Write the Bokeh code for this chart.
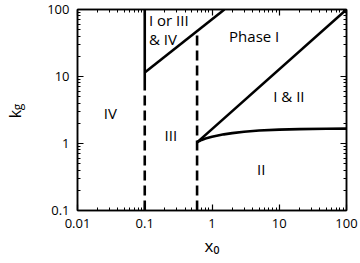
from bokeh.plotting import figure
from bokeh.models import Range1d, LogAxis, FixedTicker, Label
from bokeh.embed import file_html
from bokeh.resources import INLINE

# ---- data ----
x_ticks = [0.01, 0.1, 1, 10, 100]
x_tick_labels = ["0.01", "0.1", "1", "10", "100"]
y_ticks = [0.1, 1, 10, 100]
y_tick_labels = ["0.1", "1", "10", "100"]

# boundary x=0.1 : solid upper part, dashed lower part
b1_solid_x = [0.1, 0.1]
b1_solid_y = [8.3, 100]
b1_dash_x = [0.1, 0.1]
b1_dash_y = [0.1, 8.3]
# diagonal from (0.1, 11.5) to top
d1_x = [0.1, 1.53]
d1_y = [11.5, 100]
# boundary x=0.6 dashed
b2_dash_x = [0.6, 0.6]
b2_dash_y = [0.1, 45]
# diagonal from (0.6, 1.04) to (100, 100)
d2_x = [0.6, 100]
d2_y = [1.04, 100]
# saturating curve
c_x = [0.6, 0.65, 0.7, 0.8, 1.0, 1.5, 2.0, 3.0, 5.0, 10.0, 20.0, 50.0, 100.0]
c_y = [1.04, 1.09, 1.13, 1.19, 1.26, 1.37, 1.43, 1.50, 1.56, 1.61, 1.64, 1.66, 1.67]

region_labels = ["Phase I", "I & II", "II", "IV", "III"]
region_x = [4.24, 13.9, 5.38, 0.0307, 0.244]
region_y = [40.9, 5.03, 0.42, 2.9, 1.32]

FONT = "Open Sans"
NB = "\u00a0"

p = figure(width=360, height=263, x_axis_type="log", y_axis_type="log",
           x_range=Range1d(0.01, 100), y_range=Range1d(0.1, 100),
           output_backend="svg", toolbar_location=None,
           min_border_left=75, min_border_right=14, min_border_top=9, min_border_bottom=53)
p.xgrid.visible = False
p.ygrid.visible = False
p.outline_line_color = "black"
p.outline_line_width = 1.5
p.background_fill_color = "white"
p.border_fill_color = "white"

x_minor = [m * 10.0 ** k for k in range(-2, 2) for m in range(2, 10)]
y_minor = [m * 10.0 ** k for k in range(-1, 2) for m in range(2, 10)]

def style_axis(ax, ticks, minor, labels, show_labels, standoff):
    ax.ticker = FixedTicker(ticks=ticks, minor_ticks=minor)
    ax.major_label_overrides = {t: l for t, l in zip(ticks, labels)}
    ax.axis_line_color = "black"
    ax.axis_line_width = 1.5
    ax.major_tick_line_color = "black"
    ax.minor_tick_line_color = "black"
    ax.major_tick_line_width = 1.2
    ax.minor_tick_line_width = 1.0
    ax.major_tick_in = 6
    ax.major_tick_out = 0
    ax.minor_tick_in = 3
    ax.minor_tick_out = 0
    ax.major_label_text_font = FONT
    ax.major_label_text_color = "black"
    ax.axis_label_text_font = FONT
    ax.axis_label_text_font_style = "normal"
    ax.axis_label_text_color = "black"
    if show_labels:
        ax.major_label_text_font_size = "13px"
        ax.major_label_standoff = standoff
    else:
        ax.major_label_text_font_size = "0px"
        ax.major_label_standoff = 0
        ax.major_label_text_alpha = 0

xa = p.xaxis[0]
style_axis(xa, x_ticks, x_minor, x_tick_labels, True, 8)
xa.axis_label = "x\u2080"
xa.axis_label_text_font_size = "17px"
xa.axis_label_standoff = 3

ya = p.yaxis[0]
style_axis(ya, y_ticks, y_minor, y_tick_labels, True, 8)
ya.axis_label = NB + NB + "g"
ya.axis_label_text_font_size = "12px"
ya.axis_label_standoff = 18

# outer left axis only carries the "k" of k_g
ka = LogAxis(ticker=FixedTicker(ticks=[]), axis_label="k" + NB + NB,
             axis_label_standoff=-19, axis_line_color=None,
             major_tick_line_color=None, minor_tick_line_color=None,
             major_label_text_font_size="0px", major_label_standoff=0,
             axis_label_text_font=FONT, axis_label_text_font_size="16px",
             axis_label_text_font_style="normal", axis_label_text_color="black")
p.add_layout(ka, "left")

top = LogAxis()
p.add_layout(top, "above")
style_axis(top, x_ticks, x_minor, x_tick_labels, False, 0)
right = LogAxis()
p.add_layout(right, "right")
style_axis(right, y_ticks, y_minor, y_tick_labels, False, 0)

LW = 2.6
p.line(b1_solid_x, b1_solid_y, line_color="black", line_width=LW)
p.line(b1_dash_x, b1_dash_y, line_color="black", line_width=LW, line_dash="10 5")
p.line(d1_x, d1_y, line_color="black", line_width=LW)
p.line(b2_dash_x, b2_dash_y, line_color="black", line_width=LW, line_dash="10 5")
p.line(d2_x, d2_y, line_color="black", line_width=LW)
p.line(c_x, c_y, line_color="black", line_width=LW)

for t, xx, yy in zip(region_labels, region_x, region_y):
    p.add_layout(Label(x=xx, y=yy, text=t, text_font=FONT, text_font_size="15px",
                       text_align="center", text_baseline="middle", text_color="black"))

p.add_layout(Label(x=0.1156, y=70.9, text="I or III", text_font=FONT, text_font_size="15px",
                   text_align="left", text_baseline="middle", text_color="black"))
p.add_layout(Label(x=0.1156, y=35.7, text="& IV", text_font=FONT, text_font_size="15px",
                   text_align="left", text_baseline="middle", text_color="black"))

open("out.html", "w").write(file_html(p, INLINE))
